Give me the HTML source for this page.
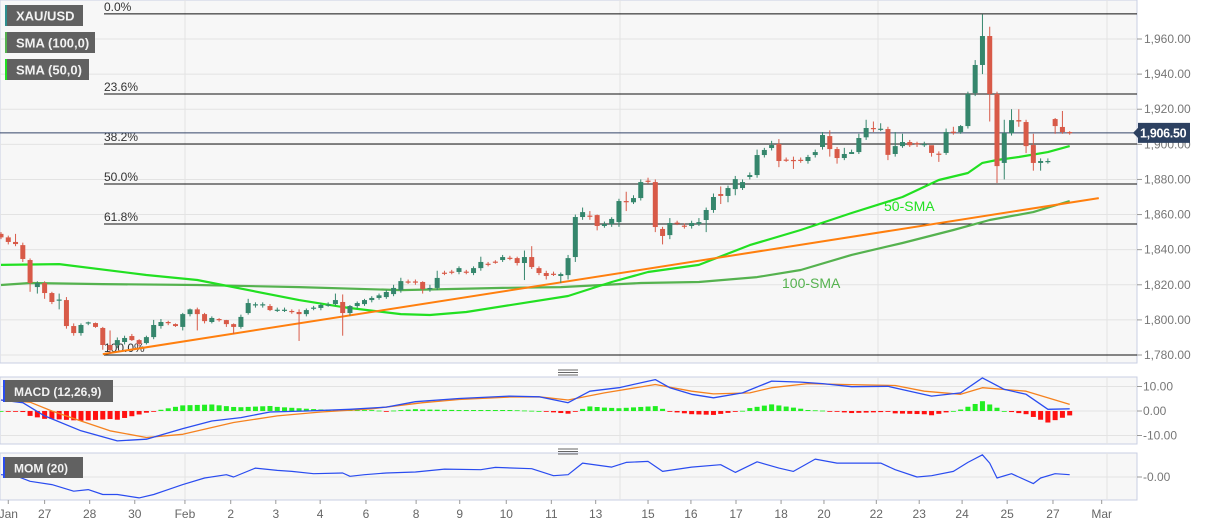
<!DOCTYPE html>
<html><head><meta charset="utf-8">
<style>
body{margin:0;background:#fff;font-family:"Liberation Sans",sans-serif;}
svg{display:block}
</style></head>
<body>
<svg id="c" width="1207" height="526"></svg>
<script>
const opens=[1849,1847,1844.4,1842.6,1834.1,1818.7,1821,1815.3,1811.3,1811.3,1796.5,1792.5,1798.2,1798.2,1795.4,1785.7,1785.7,1787.4,1790.8,1788.5,1786.8,1790.2,1796.5,1798.8,1797.6,1796,1803.3,1806,1803.3,1798.8,1800.5,1799.9,1797.6,1796,1803.9,1808.5,1808.5,1807.9,1805.6,1805.6,1805.1,1804.5,1803.3,1806.8,1806.8,1808.5,1809,1810.2,1803.9,1807.9,1809,1811.3,1812.5,1813,1814.7,1817,1821.9,1821.9,1821.6,1817.6,1818.2,1826.9,1827.5,1827.3,1827.5,1826.7,1829.5,1832,1833.2,1834.1,1835.4,1835.2,1832.4,1835.8,1829.5,1826.7,1826.3,1825,1825.5,1835.8,1858.6,1859.4,1859.7,1853.5,1854.6,1855.7,1867.7,1867,1869.4,1879.3,1878.5,1851.8,1848.3,1855.4,1853.7,1853.5,1854.6,1856.9,1862.6,1871.7,1870.6,1874.5,1875.1,1881.4,1882.5,1893.9,1897.9,1900.2,1891.3,1891.1,1891.2,1890.5,1893.9,1898.5,1904.7,1897.3,1892.2,1894.5,1895.6,1904,1909.3,1908.6,1908.7,1894.5,1899,1901.3,1900.7,1899.5,1899.5,1894.7,1895.1,1907.2,1907,1910.4,1929.2,1945.2,1961.7,1928.7,1889.4,1906.4,1913.8,1912.7,1899.6,1889.4,1890.4,1914.4,1909.9,1907];
const closes=[1847,1844.4,1843.2,1834.7,1821,1821,1815.3,1810.2,1811.6,1796.5,1792.5,1797.1,1798.6,1796,1785.7,1782.8,1788.5,1789.7,1788.5,1786.3,1790.2,1797.1,1798.8,1798.2,1796.5,1803.3,1806,1803.3,1799.3,1801.1,1799.9,1797.6,1796,1801.7,1809.6,1808.9,1808.9,1805.6,1805.8,1805.8,1804.8,1803.3,1805.6,1807,1808.5,1808.7,1811.3,1803.9,1807.9,1809.6,1811.3,1812.5,1814,1815.9,1818.2,1822.1,1821.6,1821.6,1817.6,1818.2,1823.9,1826.7,1827.3,1829.5,1827.3,1829.5,1833,1831.8,1833,1835.8,1835.2,1832.4,1835.8,1830.1,1826.7,1825,1826.1,1826.1,1835.2,1858.6,1861.4,1859.2,1853.5,1854.6,1857.5,1867.7,1867,1869.4,1878.5,1879.1,1852.9,1847.8,1855.2,1855.2,1853.5,1855.2,1855.7,1862.6,1870,1870.6,1875.1,1880.2,1878.5,1882.5,1893.9,1896.8,1899.6,1890.5,1891.1,1890.5,1891,1892.8,1895.6,1905.3,1897.3,1892.2,1894.5,1895.6,1903.6,1909.3,1908.7,1908.9,1894,1899,1901.3,1899.5,1900,1900.2,1895.1,1894.5,1907,1906.8,1910.4,1928.7,1945.2,1961.7,1928.7,1887.6,1906.4,1913.8,1913,1899,1889.4,1890.5,1890.5,1910.4,1907,1906.5];
const highs=[1850,1848,1849,1844,1835,1822,1822,1816,1815,1813,1798,1798,1799,1798.5,1796,1794,1790,1791,1792,1789,1791,1800,1800.5,1799.5,1798,1804,1806.5,1807,1804,1802,1801,1800,1798,1803,1812,1810,1810,1809,1807,1807,1806,1806,1806.5,1808,1809.5,1810,1815,1814.5,1808.5,1810.5,1812,1813.5,1815,1817,1820,1824,1823,1823,1822,1820,1828,1828,1828.5,1830.5,1828.5,1830.5,1836,1833,1834,1837,1836.5,1836,1839.5,1842,1830.5,1828,1827.5,1827,1837,1860,1864,1862,1860,1856,1858.5,1869,1873,1871,1880,1881,1880,1853,1858,1856.5,1855,1856.5,1858,1864,1872,1876,1876.5,1882,1880,1884,1897,1898,1902,1903,1892.5,1893,1892.5,1894,1897,1907,1908,1898.5,1898,1897,1906,1914,1913,1912,1910,1907,1906,1902.5,1901.5,1901.5,1896.5,1896,1909,1910,1911,1930,1948,1974,1967,1930,1914,1920,1920,1914,1906,1892,1892,1915,1919,1907.5];
const lows=[1846,1843,1842,1833,1816,1815,1812,1809,1806,1795,1791,1791,1797,1795.5,1783,1781,1784,1786,1788,1785,1786,1789,1795,1797,1796,1794,1802,1794,1798,1798,1799,1796,1792,1795,1803,1807,1807,1805,1804.5,1804.5,1803.5,1788,1802,1805.5,1805.5,1807.5,1808,1791,1802.5,1806.5,1808,1810,1811.5,1812,1813.5,1815.5,1820.5,1820,1815,1816,1817,1825.5,1826,1826,1826,1825.5,1828,1830.5,1832,1833,1834,1831,1822.7,1829,1825.5,1823,1825,1821,1823,1833,1857,1857,1851,1852.5,1853,1853,1862,1866,1868,1877.5,1850,1843,1846,1854,1852,1852,1853.5,1850,1861,1866,1867,1871,1874,1880,1881,1892.5,1896.5,1887,1890,1886,1889.5,1889,1892.5,1897,1893,1889,1891,1894.5,1894.5,1902.5,1907,1907.5,1891,1893,1898,1898.5,1898.5,1898.5,1893,1890,1894,1905.5,1906,1909,1927.5,1940,1913,1878,1880,1905,1910,1895,1885,1885,1889,1906,1906,1905.5];
const sma50Idx=[0,8,20,27,41,47,55,59,64,78,84,89,96,103,110,117,124,129,133,135,137,140,144,147];
const sma50Val=[1831.3,1831.8,1825.6,1822.7,1811.3,1807.3,1803.3,1802.8,1804.5,1813.6,1821.6,1827.3,1831.3,1842.6,1851.2,1860.9,1870,1879.7,1883.7,1889.4,1891.1,1892.8,1895.6,1899];
const sma100Idx=[0,4,14,27,41,55,69,77,88,96,104,110,117,124,131,136,142,147];
const sma100Val=[1819.9,1821,1820.4,1819.9,1818.7,1817,1818.2,1818.7,1821,1821.6,1824.4,1828.4,1837,1843.8,1851.2,1856.9,1861.4,1867.7];
const trendIdx=[14,151];
const trendVal=[1780.5,1869.4];
const fibLevels=["0.0%","23.6%","38.2%","50.0%","61.8%","100.0%"];
const fibPrices=[1974.3,1928.7,1900.2,1877.4,1854.6,1780];
const priceTicks=[1960,1940,1920,1900,1880,1860,1840,1820,1800,1780];
const lastPrice=1906.5;
const macdIdx=[0,3,6,11,16,20,25,29,33,37,42,48,53,57,63,70,74,78,81,85,90,92,95,98,102,106,110,113,117,122,125,128,132,135,138,141,144,147];
const macdVal=[4.5,3.4,-2,-8.1,-12.2,-11.5,-7.2,-4.1,-2.7,-0.4,0,0.7,1.6,3.8,5.1,6.1,5.8,3.4,8.1,9.5,12.8,9.5,6.8,5.4,7.4,12.2,11.8,11.2,9.9,10.1,8.1,6.1,7.4,13.5,8.8,6.8,0.7,0.9];
const sigIdx=[0,4,7,11,15,20,25,32,38,44,51,58,63,70,74,78,83,90,95,98,103,106,111,116,123,127,132,135,141,147];
const sigVal=[4.5,3.6,0,-4.1,-8.1,-10.8,-9.5,-4.7,-2,-0.4,0.9,3.4,4.7,5.7,5.8,4.5,7.4,10.8,8.1,7,7.4,9.5,11.2,10.8,10.4,8.1,6.8,9.5,8.1,2.7];
const macdTicks=[10,0,-10];
const momIdx=[0,2,4,7,10,12,14,16,19,21,23,25,28,31,32,35,38,40,43,47,48,50,53,57,61,66,68,73,76,78,80,84,86,89,91,95,99,101,104,107,109,112,115,121,123,126,128,131,133,135,136,137,139,142,143,145,147];
const momVal=[2.3,1.3,-4.3,-7.6,-14.2,-12.6,-17.5,-17.5,-20.9,-17.5,-12.6,-7.6,-1,2.3,0,8.9,6.6,5.6,3.3,4,0.7,2.3,4,5,7.9,7.3,9.6,8.3,1.3,2.3,13.9,9.9,14.6,15.6,5.6,9.9,12.3,4.6,15.2,8.9,5.6,17.9,13.9,13.9,7.3,0,1.3,5.6,14.6,22.2,13.9,-1,3.3,-6.6,-1,3.3,2.3];
const dateLabels=["Jan","27","28","30","Feb","2","3","4","6","8","9","10","11","13","15","16","17","18","20","22","23","24","25","27","Mar"];
const dateIdx=[1,6,12.2,18.4,25.3,31.6,37.8,43.9,50.2,57.1,63.1,69.5,75.7,81.8,89,94.9,101.1,107.3,113.2,120.4,126.3,132.2,138.4,144.7,151.4];

const NS="http://www.w3.org/2000/svg";
const svg=document.getElementById('c');
function mk(tag,attrs,parent){const e=document.createElementNS(NS,tag);for(const k in attrs)e.setAttribute(k,attrs[k]);(parent||svg).appendChild(e);return e;}
const X=i=>1+i*7.27;
const Y=p=>39+(1960-p)*1.7556;
const MY=v=>411-v*2.45;
const OY=v=>477-v;
const PR=1137;

let bg=mk('rect',{x:0,y:0,width:PR,height:363,fill:'#f7f7f7',stroke:'#c9cfe3'});


let mb=mk('rect',{x:0,y:377,width:PR,height:67,fill:'#f7f7f7',stroke:'#c9cfe3'});


let ob=mk('rect',{x:0,y:453,width:PR,height:47,fill:'#f7f7f7',stroke:'#c9cfe3'});



priceTicks.forEach(p=>{
  const g=mk('line',{x1:0,x2:PR,y1:Y(p),y2:Y(p),stroke:'#e3e3e3'});
  
  
  const t=mk('line',{x1:PR,x2:PR+5,y1:Y(p),y2:Y(p),stroke:'#999'});
  
  
  const l=mk('text',{x:PR+7,y:Y(p)+4,'font-size':12,fill:'#777'});
  l.textContent=p.toLocaleString('en-US',{minimumFractionDigits:2});
  
  
});
[185,620,878,1107].forEach(x=>{
  [[0,363],[377,444],[453,500]].forEach(r=>{
    const v=mk('line',{x1:x,x2:x,y1:r[0],y2:r[1],stroke:'#e3e3e3'});
    
    
  });
});
macdTicks.forEach(v=>{
  const g=mk('line',{x1:0,x2:PR,y1:MY(v),y2:MY(v),stroke:'#e3e3e3'});
  
  
  const t=mk('line',{x1:PR,x2:PR+5,y1:MY(v),y2:MY(v),stroke:'#999'});
  
  
  const l=mk('text',{x:PR+6,y:MY(v)+4,'font-size':12,fill:'#777'});
  l.textContent=v.toFixed(2);
  
  
});
{
  const g=mk('line',{x1:0,x2:PR,y1:OY(0),y2:OY(0),stroke:'#e3e3e3'});
  
  
  const t=mk('line',{x1:PR,x2:PR+5,y1:OY(0),y2:OY(0),stroke:'#999'});
  
  
  const l=mk('text',{x:PR+6,y:OY(0)+4,'font-size':12,fill:'#777'});
  l.textContent='-0.00';
  
  
}

fibLevels.forEach((lab,i)=>{
  const y=Y(fibPrices[i]);
  const l=mk('line',{x1:104,x2:PR,y1:y,y2:y,stroke:'#111','stroke-width':1});
  
  
  const t=mk('text',{x:104,y:y-3,'font-size':12,fill:'#333'});
  t.textContent=lab;
  
  
});

{
  const l=mk('line',{x1:0,x2:PR,y1:Y(lastPrice),y2:Y(lastPrice),stroke:'#34466a'});
  
  
}

function lineFrom(idx,val,yf,color,w,name){
  const d=idx.map((k,i)=>(i?'L':'M')+X(k).toFixed(1)+' '+yf(val[i]).toFixed(1)).join(' ');
  const p=mk('path',{d:d,fill:'none',stroke:color,'stroke-width':w,'stroke-linejoin':'round'});
  
  
}
lineFrom(sma100Idx,sma100Val,Y,'#55b24f',2.2,'sma-100-line');
lineFrom(sma50Idx,sma50Val,Y,'#22e022',2.2,'sma-50-line');
lineFrom(trendIdx,trendVal,Y,'#ff7f0e',2,'support-trendline');

opens.forEach((o,i)=>{
  const c=closes[i];
  const up=c>=o;
  const col=up?'#35866c':'#d85a48';
  const x=X(i);
  const w=mk('line',{x1:x,x2:x,y1:Y(highs[i]),y2:Y(lows[i]),stroke:col,'stroke-width':1});
  
  
  const top=Y(Math.max(o,c)),bot=Y(Math.min(o,c));
  const b=mk('rect',{x:x-2.5,y:top,width:5,height:Math.max(1.2,bot-top),fill:col});
  
  
});

{
  const t=mk('text',{x:884,y:211,'font-size':14,fill:'#22e022'});
  t.textContent='50-SMA';
  
  
  const t2=mk('text',{x:782,y:288,'font-size':14,fill:'#55b24f'});
  t2.textContent='100-SMA';
  
  
}

{
  const y=Y(lastPrice);
  const p=mk('path',{d:`M1133 ${y} L1138 ${y-5} L1138 ${y-10} L1190 ${y-10} L1190 ${y+10} L1138 ${y+10} L1138 ${y+5} Z`,fill:'#2d4161'});
  
  
  const t=mk('text',{x:1140,y:y+4.5,'font-size':12.5,'font-weight':'bold',fill:'#fff','letter-spacing':'-0.3'});
  t.textContent='1,906.50';
  
  
}

function interp(idx,val,i){
  for(let k=0;k<idx.length-1;k++){if(i>=idx[k]&&i<=idx[k+1]){const f=(i-idx[k])/(idx[k+1]-idx[k]);return val[k]+f*(val[k+1]-val[k]);}}
  return val[val.length-1];
}
for(let i=0;i<opens.length;i++){
  const h=interp(macdIdx,macdVal,i)-interp(sigIdx,sigVal,i);
  const y0=MY(0),y1=MY(h);
  const r=mk('rect',{x:X(i)-2.5,y:Math.min(y0,y1),width:5,height:Math.max(0.8,Math.abs(y1-y0)),fill:h>=0?'#22ee22':'#ff1111'});
  
  
}
lineFrom(sigIdx,sigVal,MY,'#f5821f',1.3,'macd-signal-line');
lineFrom(macdIdx,macdVal,MY,'#2a4cf0',1.3,'macd-line');
lineFrom(momIdx,momVal,OY,'#2a4cf0',1.2,'momentum-line');

dateLabels.forEach((d,i)=>{
  const x=X(dateIdx[i]);
  const t=mk('line',{x1:x,x2:x,y1:500,y2:504,stroke:'#999'});
  
  
  const l=mk('text',{x:x,y:518,'font-size':12,fill:'#666','text-anchor':'middle'});
  l.textContent=d;
  
  
});

[370,449].forEach(y=>{
  const g=mk('g',{});
  
  
  [0,2.5,5].forEach(d=>mk('line',{x1:558,x2:578,y1:y+d,y2:y+d,stroke:'#666'},g));
});

function box(x,y,w,h,text,accent,name,fs){
  const g=mk('g',{});
  
  
  mk('rect',{x:x,y:y,width:w,height:h,fill:'#616161'},g);
  mk('rect',{x:x,y:y,width:2,height:h,fill:accent},g);
  const t=mk('text',{x:x+11,y:y+h/2+5,'font-size':fs,'font-weight':'bold',fill:'#f2f2f2'},g);
  t.textContent=text;
}
box(5,5,78,21,'XAU/USD','#2f8f8f','legend-xau-usd',13);
box(5,32,90,21,'SMA (100,0)','#55b24f','legend-sma-100',13);
box(5,59,84,21,'SMA (50,0)','#22e022','legend-sma-50',13);
box(3,380,110,22,'MACD (12,26,9)','#2a4cf0','legend-macd',12);
box(3,457,80,21,'MOM (20)','#2a4cf0','legend-momentum',12);
</script>
</body></html>
